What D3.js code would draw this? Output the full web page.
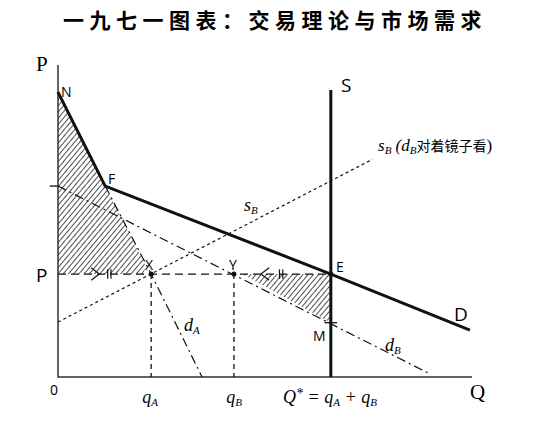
<!DOCTYPE html>
<html><head><meta charset="utf-8">
<script src="https://cdn.jsdelivr.net/npm/d3@7"></script>
<style>body{margin:0;background:#fff}</style></head>
<body><svg id="chart" width="550" height="429"></svg>
<script>
// points in chart units (Q, P)
const N = [0, 91.3], F = [11.4, 61.2], E = [65.9, 33], X = [22.5, 33], Y = [42.5, 33];
const M = [65.9, 17.4];
const demand = [N, F, E, [99.5, 15]];
const dB = [[0, 61.2], [89.4, 1.3]];
const dA = [F, X, [34.8, 0]];
const sB = [[0, 17.6], [76, 69.8]];
const shadeA = [N, F, [21.2, 35.5], [20.6, 33], [0, 33]];
const shadeB = [[44.5, 33], E, M];

const svg = d3.select('#chart');
const x = d3.scaleLinear().domain([0, 100]).range([58, 472]);
const y = d3.scaleLinear().domain([0, 100]).range([377, 65]);
const line = d3.line().x(d => x(d[0])).y(d => y(d[1]));

const pat = svg.append('defs').append('pattern').attr('id', 'hatch')
  .attr('width', 4).attr('height', 4).attr('patternUnits', 'userSpaceOnUse')
  .attr('patternTransform', 'rotate(40)');
pat.append('line').attr('x1', 0).attr('y1', 0).attr('x2', 0).attr('y2', 4)
  .attr('stroke', '#222').attr('stroke-width', 1.6);

svg.append('text').attr('x', 275).attr('y', 28).attr('text-anchor', 'middle')
  .attr('font-family', 'Noto Sans CJK SC').attr('font-size', 21).attr('font-weight', 'bold')
  .attr('letter-spacing', 5.5).text('一九七一图表：交易理论与市场需求');

[shadeA, shadeB].forEach(s => svg.append('path').attr('d', line(s) + 'Z')
  .attr('fill', 'url(#hatch)'));

// axes
svg.append('path').attr('d', line([[0, 100], [0, 0], [100, 0]]))
  .attr('fill', 'none').attr('stroke', '#333').attr('stroke-width', 1.5);

const add = (pts, w, dash) => svg.append('path').attr('d', line(pts)).attr('fill', 'none')
  .attr('stroke', '#111').attr('stroke-width', w).attr('stroke-dasharray', dash);

add(demand, 3);
add([[65.9, 92], [65.9, 0]], 3);
add(dB, 1.2, '9,4,2,4');
add(dA, 1.2, '9,4,2,4');
add(sB, 1.2, '3,3');
add([[0, 33], E], 1.3, '8,5');
add([X, [22.5, 0]], 1.3, '5,4');
add([Y, [42.5, 0]], 1.3, '5,4');
add([[-2, 61.2], [0, 61.2]], 1.3);
add([[-1.5, M[1]], [1.5, M[1]]].map(d => [M[0] + d[0], d[1]]), 1.3);
[X, Y, E].forEach(p => svg.append('circle').attr('cx', x(p[0])).attr('cy', y(p[1])).attr('r', 2.5).attr('fill', '#111'));

// arrows on price line
add([[8, 35], [10, 33], [8, 31]], 1.2);
add([[12, 34.5], [12, 31.5]], 1.2); add([[12.8, 34.5], [12.8, 31.5]], 1.2);
add([[51, 35], [49, 33], [51, 31]], 1.2);
add([[53.5, 34.5], [53.5, 31.5]], 1.2); add([[54.3, 34.5], [54.3, 31.5]], 1.2);

const txt = (tx, ty, s, o = {}) => svg.append('text').attr('x', tx).attr('y', ty)
  .attr('font-family', o.f || 'Open Sans').attr('font-size', o.s || 15)
  .attr('font-style', o.i ? 'italic' : null).attr('text-anchor', o.a || 'start').html(s);
const serif = 'Liberation Serif';
txt(36, 71, 'P', {f: serif, s: 21});
txt(36, 282, 'P', {s: 19});
txt(50, 395, '0', {s: 14});
txt(470, 399, 'Q', {f: serif, s: 21});
txt(61, 97, 'N', {s: 14});
txt(108, 184, 'F', {s: 14});
txt(145, 270, 'X', {s: 14});
txt(229, 270, 'Y', {s: 14});
txt(336, 272, 'E', {s: 14});
txt(313, 341, 'M', {s: 14});
txt(341, 92, 'S', {s: 19});
txt(454, 321, 'D', {s: 19});
txt(150, 403, 'q<tspan font-size="11" dy="3">A</tspan>', {f: serif, i: 1, a: 'middle', s: 18});
txt(234, 403, 'q<tspan font-size="11" dy="3">B</tspan>', {f: serif, i: 1, a: 'middle', s: 18});
txt(330, 403, 'Q<tspan dy="-5" font-size="14">*</tspan><tspan dy="5"> = q</tspan><tspan font-size="11" dy="3">A</tspan><tspan dy="-3"> + q</tspan><tspan font-size="11" dy="3">B</tspan>', {f: serif, i: 1, a: 'middle', s: 18});
txt(244, 211, 's<tspan font-size="11" dy="3">B</tspan>', {f: serif, i: 1, s: 18});
txt(184, 331, 'd<tspan font-size="11" dy="3">A</tspan>', {f: serif, i: 1, s: 18});
txt(385, 351, 'd<tspan font-size="11" dy="3">B</tspan>', {f: serif, i: 1, s: 18});
txt(378, 151, 's<tspan font-size="11" dy="3">B</tspan><tspan dy="-3"> (d</tspan><tspan font-size="11" dy="3">B</tspan><tspan dy="-3" font-family="Noto Sans CJK SC" font-style="normal" font-size="14">对着镜子看</tspan><tspan font-style="normal">)</tspan>', {f: serif, i: 1, s: 17});
</script></body></html>
